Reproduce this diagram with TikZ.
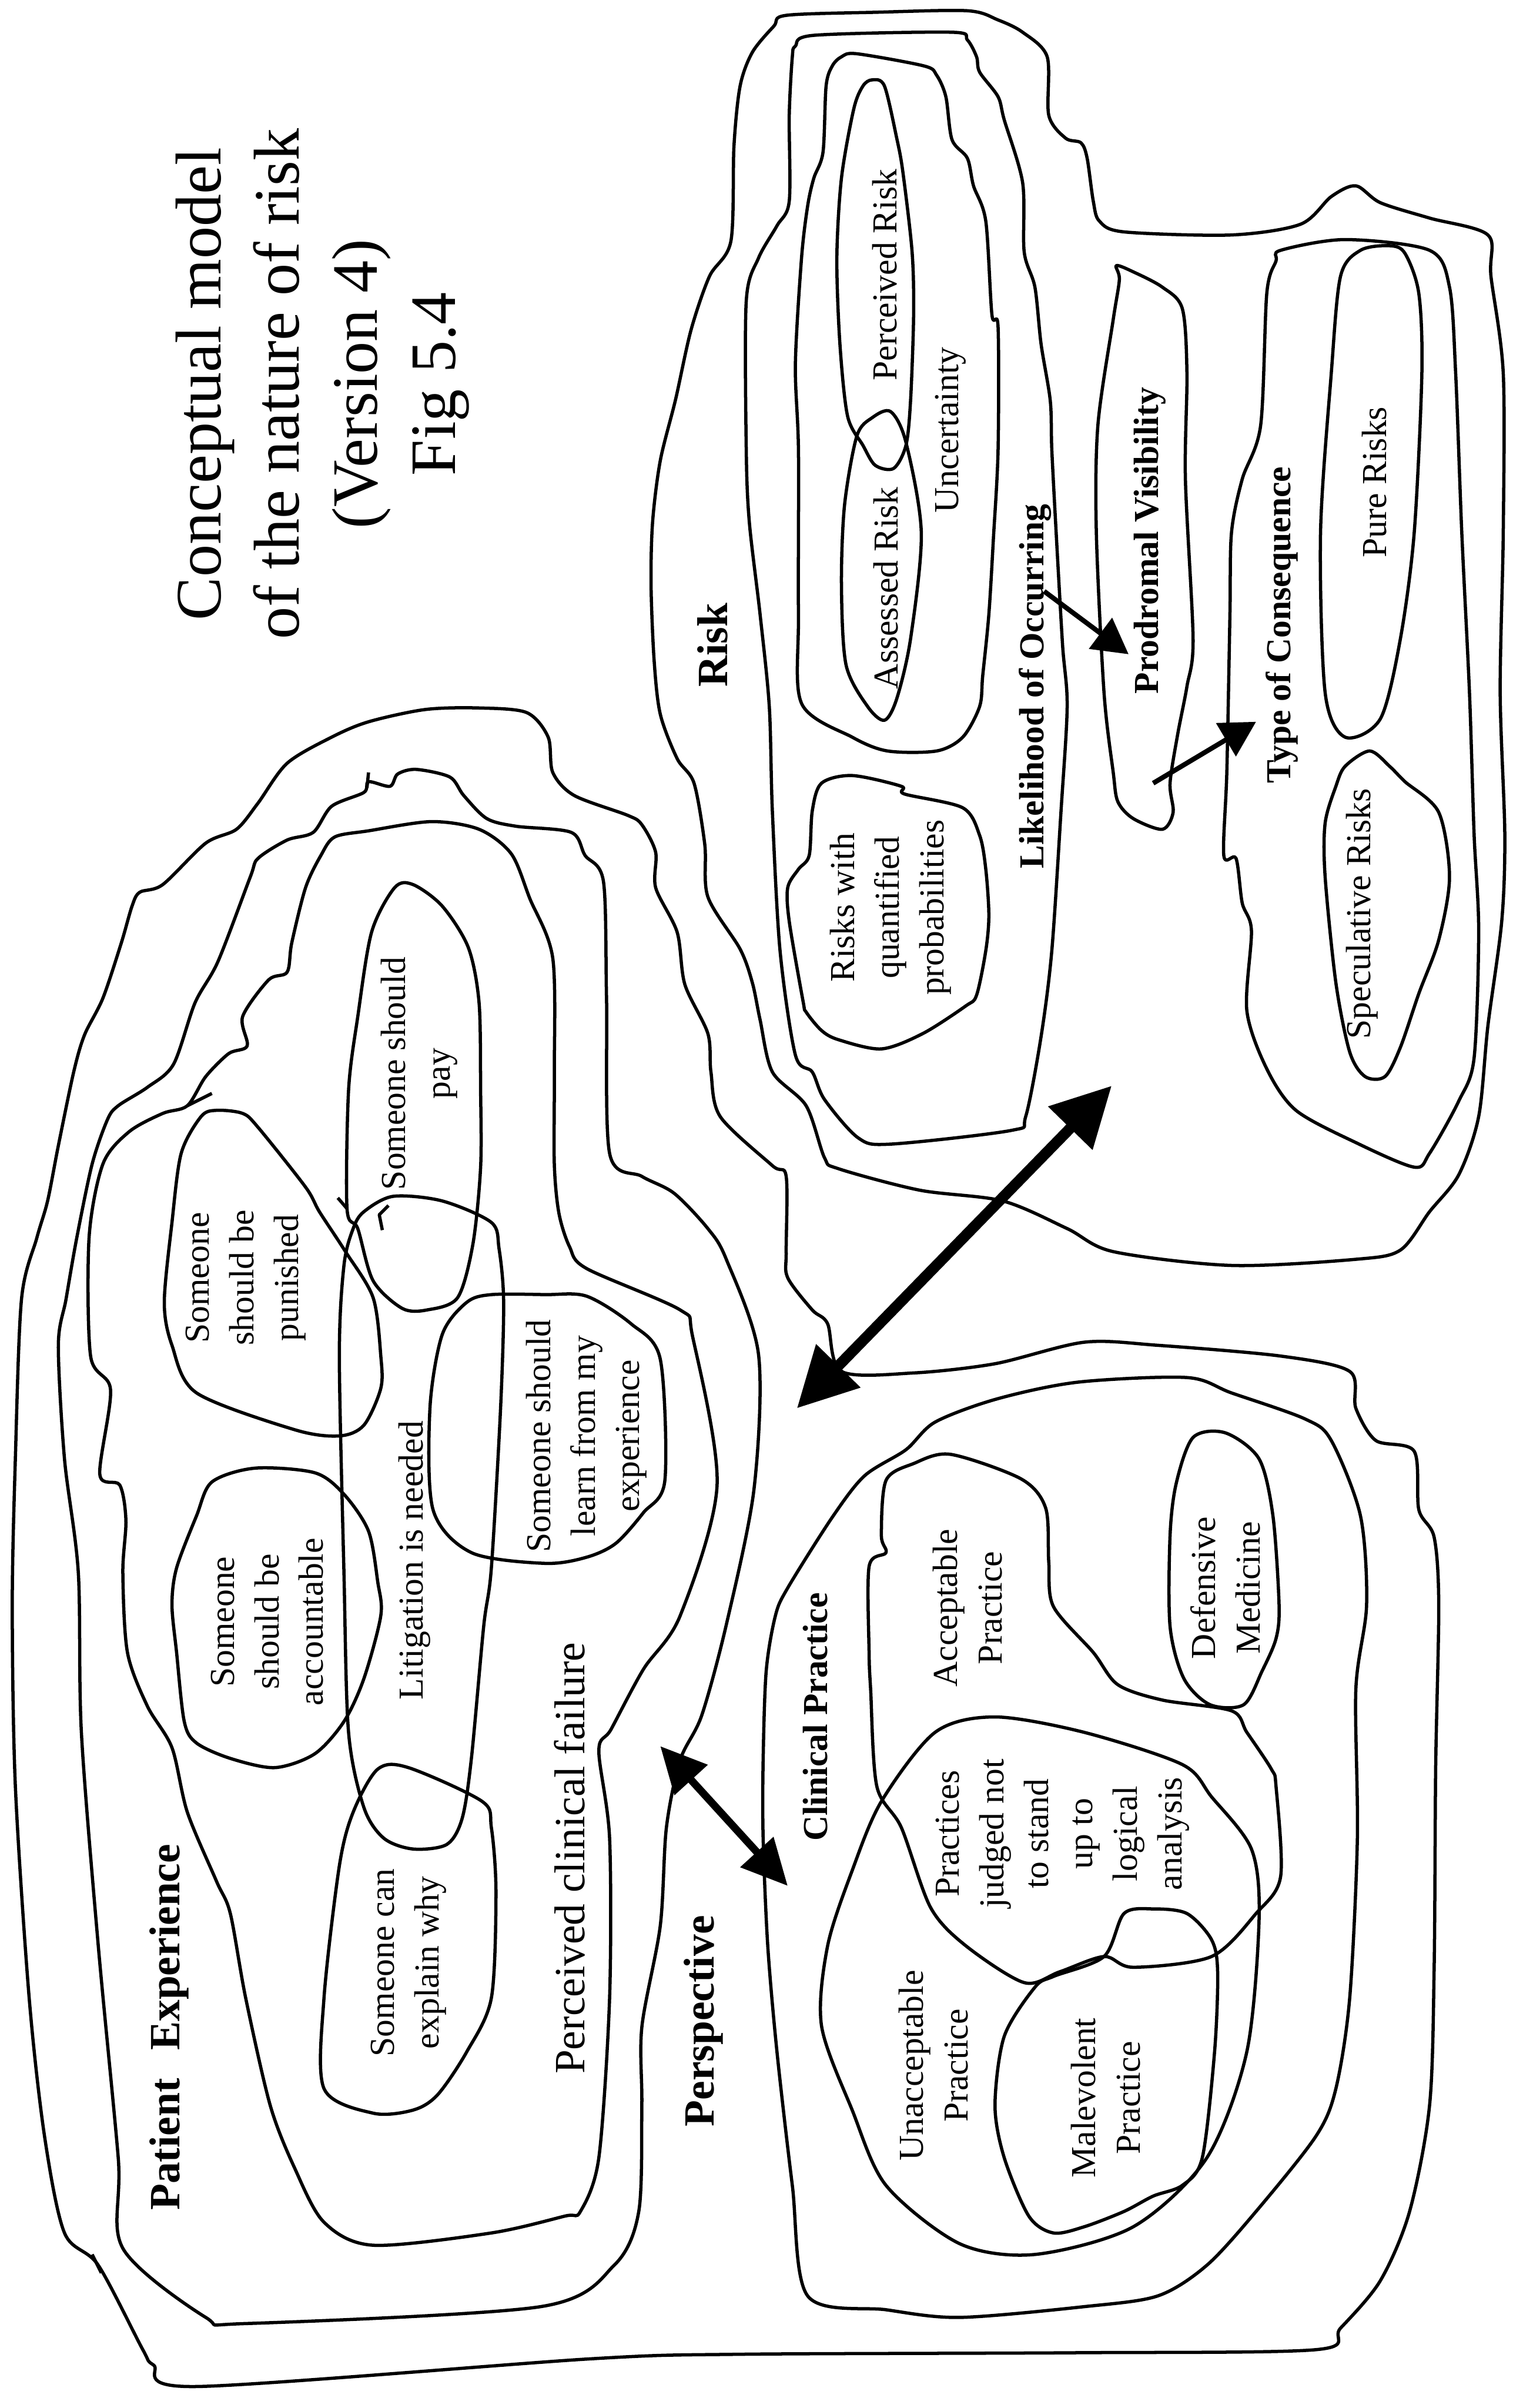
\documentclass[tikz,border=0pt]{standalone}
\usepackage{fontspec}
\setmainfont{Liberation Serif}
\usetikzlibrary{arrows.meta}
\tikzset{
  region/.style={draw=black, line width=1.2pt, line join=round},
  lbl/.style={rotate=90, align=center, inner sep=0pt, font=\fontsize{13}{16.5}\selectfont},
  hdr/.style={lbl, font=\bfseries\fontsize{13}{16.5}\selectfont},
  bighdr/.style={lbl, font=\bfseries\fontsize{16}{19}\selectfont},
  bigtxt/.style={lbl, font=\fontsize{16}{19}\selectfont},
  titletxt/.style={rotate=90, align=center, inner sep=0pt, font=\fontsize{24}{29}\selectfont},
  bigarrow/.style={line width=4pt, arrows={Triangle[length=22pt,width=22pt]-Triangle[length=22pt,width=22pt]}},
  midarrow/.style={line width=2.8pt, arrows={Triangle[length=17pt,width=16pt]-Triangle[length=17pt,width=16pt]}},
  smallarrow/.style={line width=1.8pt, arrows={-Triangle[length=13pt,width=14pt]}},
}

\begin{document}
\begin{tikzpicture}[x=0.02cm, y=-0.02cm]
\useasboundingbox (0,0) rectangle (985,1568);

% risk side
\draw[region] plot[smooth cycle, tension=0.5] coordinates {(504,17) (512,10) (570,8) (630,7) (650,13) (666,21) (682,37) (683,75) (694,90) (704,93) (708,103) (712,131) (716,144) (732,151) (802,153) (847,146) (867,128) (883,121) (899,132) (931,142) (969,153) (971,180) (979,243) (979,347) (977,451) (980,543) (978,600) (969,668) (963,727) (950,765) (931,789) (912,814) (883,820) (802,824) (725,815) (695,800) (653,782) (599,775) (546,761) (537,754) (525,720) (503,698) (495,664) (490,640) (482,618) (461,584) (459,550) (452,510) (441,494) (430,465) (426,430) (424,381) (425,340) (430,300) (440,260) (450,215) (462,180) (476,157) (478,95) (482,56) (490,34)};
\draw[region] plot[smooth cycle, tension=0.5] coordinates {(518,30) (530,23) (620,21) (630,26) (636,37) (638,47) (650,63) (654,78) (666,119) (667,164) (674,187) (678,224) (684,261) (685,293) (688,350) (692,420) (695,460) (691,528) (685,619) (678,675) (668,727) (659,736) (580,745) (559,741) (537,716) (529,698) (518,687) (508,619) (503,528) (501,460) (495,400) (488,340) (486,293) (486,196) (494,168) (506,147) (514,131) (514,75) (516,37)};
\draw[region] plot[smooth cycle, tension=0.5] coordinates {(548,37) (558,35) (602,43) (610,49) (616,63) (620,91) (630,103) (634,121) (642,144) (646,205) (650,213) (650,293) (647,350) (644,400) (640,440) (638,460) (627,480) (610,489) (578,489) (555,480) (522,458) (520,400) (520,293) (518,237) (522,168) (526,134) (530,116) (536,99) (538,56) (542,43)};
\draw[region] plot[smooth cycle, tension=0.5] coordinates {(568,52) (576,56) (584,90) (588,112) (594,164) (595,205) (593,261) (590,290) (582,305) (570,303) (562,290) (552,271) (547,224) (545,168) (548,116) (556,71) (562,56)};
\draw[region] plot[smooth cycle, tension=0.5] coordinates {(568,272) (580,268) (590,288) (600,347) (593,416) (584,455) (576,469) (565,460) (551,433) (548,381) (550,329) (558,284)};
\draw[region] plot[smooth cycle, tension=0.5] coordinates {(535,510) (555,505) (587,512) (589,517) (627,526) (638,544) (642,566) (644,596) (642,619) (636,648) (629,655) (601,673) (574,683) (546,677) (535,671) (525,659) (523,652) (514,600) (513,578) (520,566) (527,557) (529,528)};
\draw[region] plot[smooth cycle, tension=0.5] coordinates {(727,173) (738,177) (757,187) (770,201) (773,243) (772,312) (777,416) (773,447) (767,478) (762,510) (764,529) (757,540) (738,533) (728,522) (725,503) (719,451) (714,347) (715,277) (725,208) (729,182)};
\draw[region] plot[smooth cycle, tension=0.5] coordinates {(834,163) (876,156) (931,163) (944,187) (948,243) (952,347) (957,451) (960,543) (963,606) (960,689) (950,717) (931,751) (921,760) (883,744) (844,723) (825,696) (812,658) (815,606) (809,588) (805,559) (797,557) (799,502) (801,400) (802,347) (809,312) (821,277) (825,191) (831,170)};
\draw[region] plot[smooth cycle, tension=0.5] coordinates {(886,163) (905,160) (915,165) (924,191) (926,243) (921,347) (912,416) (899,468) (876,480) (863,451) (860,347) (867,243) (873,180)};
\draw[region] plot[smooth cycle, tension=0.5] coordinates {(876,499) (892,489) (905,499) (915,509) (937,529) (944,571) (937,612) (924,647) (912,682) (902,701) (889,701) (879,685) (870,640) (863,571) (863,536) (870,512)};

% perspective side
\draw[region] plot[smooth cycle, tension=0.5] coordinates {(240,470) (277,462) (312,461) (343,464) (357,480) (360,503) (374,518) (409,531) (418,537) (427,555) (427,578) (441,607) (446,641) (461,673) (463,698) (469,727) (503,759) (512,766) (512,815) (513,832) (529,853) (539,862) (548,893) (595,894) (648,888) (706,874) (754,876) (834,883) (879,893) (883,917) (896,938) (921,945) (924,983) (934,1001) (937,1045) (935,1150) (934,1281) (931,1371) (918,1440) (899,1485) (873,1516) (857,1530) (700,1532) (481,1533) (384,1536) (128,1554) (100,1540) (93,1530) (64,1475) (42,1454) (29,1391) (19,1301) (10,1163) (8,1045) (10,950) (14,846) (24,806) (31,782) (38,746) (48,698) (55,674) (67,650) (79,614) (86,590) (91,581) (106,576) (134,549) (154,540) (168,523) (187,497) (216,480)};
\draw[region] (60,1468) -- (66,1480);
\draw[region] plot[smooth cycle, tension=0.5] coordinates {(240,509) (254,512) (259,504) (271,501) (293,506) (302,518) (317,533) (336,538) (372,542) (381,557) (393,574) (395,650) (397,751) (418,766) (439,777) (461,800) (473,820) (494,882) (491,970) (473,1058) (457,1117) (443,1146) (434,1190) (430,1254) (418,1320) (418,1371) (416,1440) (400,1475) (352,1502) (160,1513) (134,1509) (80,1464) (77,1405) (64,1267) (53,1128) (51,1024) (42,950) (38,876) (43,846) (50,806) (60,758) (70,729) (77,720) (96,708) (113,693) (127,653) (142,626) (163,571) (168,559) (187,547) (204,542) (216,525) (237,516)};
\draw[region] (240,503) -- (239,513);
\draw[region] plot[smooth cycle, tension=0.5] coordinates {(281,535) (312,540) (333,556) (345,585) (360,624) (361,700) (361,758) (364,790) (371,812) (382,826) (443,853) (451,870) (467,967) (443,1052) (419,1087) (398,1126) (390,1140) (397,1197) (397,1301) (390,1405) (378,1440) (368,1443) (320,1454) (243,1462) (211,1447) (192,1412) (176,1371) (160,1301) (150,1246) (141,1225) (122,1180) (112,1138) (96,1111) (83,1076) (80,1024) (82,990) (78,967) (65,960) (72,905) (59,883) (58,806) (67,758) (84,737) (106,725) (122,720) (134,701) (149,686) (161,681) (158,662) (175,638) (187,633) (190,614) (199,578) (209,557) (218,545) (240,541)};
\draw[region] (122,720) -- (138,712);
\draw[region] plot[smooth cycle, tension=0.5] coordinates {(269,576) (288,590) (305,617) (312,653) (313,710) (313,760) (308,810) (298,845) (278,853) (262,852) (243,834) (233,800) (226,787) (227,710) (233,662) (242,607) (257,578)};
\draw[region] (226,787) -- (220,780);
\draw[region] plot[smooth cycle, tension=0.5] coordinates {(141,723) (158,725) (168,734) (199,773) (208,789) (225,815) (243,845) (248,883) (248,904) (237,928) (221,935) (192,931) (128,907) (112,876) (107,848) (112,796) (118,751) (131,727)};
\draw[region] plot[smooth cycle, tension=0.5] coordinates {(304,848) (320,843) (355,843) (382,844) (411,862) (430,885) (433,964) (419,985) (401,1005) (382,1014) (355,1018) (307,1011) (282,983) (280,917) (288,869)};
\draw[region] plot[smooth cycle, tension=0.5] coordinates {(256,779) (288,782) (320,796) (325,813) (328,848) (326,917) (320,1021) (315,1059) (307,1145) (301,1184) (291,1201) (269,1204) (250,1197) (237,1177) (227,1128) (224,1024) (221,883) (224,824) (230,800) (237,789)};
\draw[region] (249,801) -- (247,791) -- (253,785);
\draw[region] plot[smooth cycle, tension=0.5] coordinates {(138,965) (166,956) (205,959) (224,973) (240,997) (246,1030) (248,1052) (237,1093) (224,1121) (205,1142) (179,1151) (150,1145) (128,1135) (120,1121) (115,1076) (112,1045) (115,1021) (128,987)};
\draw[region] plot[smooth cycle, tension=0.5] coordinates {(246,1152) (266,1151) (314,1173) (320,1190) (323,1232) (320,1301) (304,1336) (285,1364) (269,1374) (243,1376) (211,1360) (211,1301) (221,1215) (230,1180)};
\draw[region] plot[smooth cycle, tension=0.5] coordinates {(513,1034) (542,988) (563,961) (590,944) (609,926) (649,911) (702,900) (773,897) (802,907) (850,924) (867,938) (886,987) (890,1045) (883,1100) (884,1197) (879,1301) (870,1360) (857,1391) (818,1440) (786,1475) (754,1495) (706,1502) (625,1509) (577,1504) (526,1495) (516,1423) (506,1336) (500,1267) (497,1197) (497,1146) (499,1088) (505,1052)};
\draw[region] plot[smooth cycle, tension=0.5] coordinates {(577,964) (595,953) (619,947) (665,963) (681,982) (683,1017) (686,1046) (712,1076) (728,1097) (757,1107) (802,1114) (812,1128) (828,1152) (831,1163) (834,1222) (818,1246) (789,1274) (738,1281) (719,1274) (690,1284) (667,1291) (629,1267) (606,1242) (587,1190) (571,1163) (567,1100) (566,1076) (566,1020) (577,1011) (574,1000)};
\draw[region] plot[smooth cycle, tension=0.5] coordinates {(777,936) (798,933) (820,950) (829,987) (833,1045) (831,1067) (822,1088) (810,1110) (788,1110) (771,1093) (762,1059) (762,1000) (766,966)};
\draw[region] plot[smooth cycle, tension=0.5] coordinates {(539,1267) (535,1319) (555,1374) (577,1423) (625,1461) (674,1468) (738,1450) (786,1405) (812,1336) (820,1249) (815,1204) (789,1170) (770,1149) (706,1128) (648,1118) (609,1128) (574,1173) (555,1218)};
\draw[region] plot[smooth cycle, tension=0.5] coordinates {(674,1294) (686,1287) (719,1274) (732,1246) (751,1243) (773,1246) (789,1263) (793,1284) (791,1336) (783,1405) (770,1423) (751,1430) (732,1440) (706,1450) (686,1454) (670,1443) (654,1405) (648,1371) (654,1326)};

% labels
\node[titletxt] (title) at (210,250) {Conceptual model\\of the nature of risk\\(Version 4)\\Fig 5.4};
\node[bighdr] (risk) at (464,420) {Risk};
\node[lbl] (perceived) at (576,179) {Perceived Risk};
\node[lbl] (assessed) at (577,383) {Assessed Risk};
\node[lbl] (uncert) at (619,280) {Uncertainty};
\node[hdr] (likeli) at (674,447) {Likelihood of Occurring};
\node[hdr] (prodromal) at (749,352) {Prodromal Visibility};
\node[hdr] (typecons) at (835,407) {Type of Consequence};
\node[lbl] (pure) at (895,314) {Pure Risks};
\node[lbl] (spec) at (887,595) {Speculative Risks};
\node[lbl] (quant) at (580,591) {Risks with\\quantified\\probabilities};
\node[lbl] (pay) at (273,699) {Someone should\\pay};
\node[lbl] (punished) at (160,832) {Someone\\should be\\punished};
\node[lbl] (learn) at (382,935) {Someone should\\learn from my\\experience};
\node[lbl] (litig) at (270,1016) {Litigation is needed};
\node[lbl] (account) at (174,1056) {Someone\\should be\\accountable};
\node[lbl] (explain) at (266,1278) {Someone can\\explain why};
\node[bigtxt] (failure) at (371,1210) {Perceived clinical failure};
\node[bighdr] (patient) at (110,1320) {Patient\hspace{0.4em} Experience};
\node[bighdr] (persp) at (458,1316) {Perspective};
\node[hdr] (clinical) at (531,1118) {Clinical Practice};
\node[lbl] (accept) at (630,1047) {Acceptable\\Practice};
\node[lbl] (defensive) at (798,1034) {Defensive\\Medicine};
\node[lbl] (judged) at (692,1194) {Practices\\judged not\\to stand\\up to\\logical\\analysis};
\node[lbl] (unaccept) at (608,1345) {Unacceptable\\Practice};
\node[lbl] (malev) at (720,1366) {Malevolent\\Practice};

% arrows
\coordinate (bigA) at (519,917);
\coordinate (bigB) at (724,707);
\coordinate (midA) at (430,1137);
\coordinate (midB) at (513,1228);
\coordinate (likeA) at (680,385);
\coordinate (likeB) at (735,426);
\coordinate (prodA) at (751,510);
\coordinate (prodB) at (818,470);
\draw[bigarrow] (bigA) -- (bigB);
\draw[midarrow] (midA) -- (midB);
\draw[smallarrow] (likeA) -- (likeB);
\draw[smallarrow] (prodA) -- (prodB);
\end{tikzpicture}
\end{document}
